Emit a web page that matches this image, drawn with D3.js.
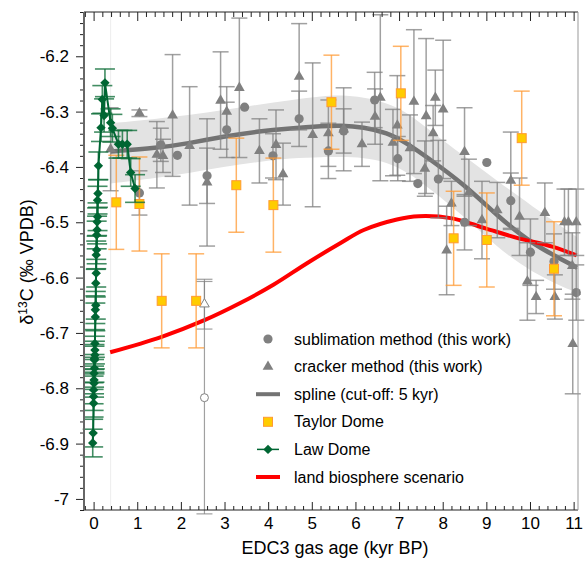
<!DOCTYPE html>
<html lang="en">
<head>
<meta charset="UTF-8">
<title>d13C EDC3</title>
<script src="https://d3js.org/d3.v7.min.js"></script>
<style>
  body { margin: 0; background: #fff; font-family: Arial, "Liberation Sans", sans-serif; }
  svg { display: block; }
  .tick text { font-family: Arial, "Liberation Sans", sans-serif; fill: #000; }
</style>
</head>
<body>
<div id="chart"></div>
<script>
// sublimation method (this work)
const subAge  = [1.05, 1.54, 1.92, 2.60, 3.05, 3.46, 4.11, 4.71, 5.38, 5.73, 6.44, 6.97, 7.43, 7.90, 8.50, 9.01, 9.56, 10.01, 10.55, 11.06];
const subD13C = [-6.447, -6.360, -6.379, -6.416, -6.333, -6.292, -6.380, -6.313, -6.371, -6.335, -6.279, -6.385, -6.430, -6.422, -6.500, -6.392, -6.461, -6.554, -6.571, -6.627];
const subErr  = [0.04, 0.03, 0, 0.05, 0.05, 0, 0.04, 0.05, 0.05, 0.04, 0.05, 0.04, 0, 0.07, 0.05, 0, 0.05, 0.06, 0.05, 0.05];

// cracker method (this work)
const crkAge  = [0.39, 1.05, 1.45, 1.59, 1.81, 2.20, 2.60, 2.91, 3.05, 3.34, 3.80, 4.18, 4.34, 4.71, 5.02, 5.38, 5.73, 6.15, 6.45, 6.57, 6.86, 6.96, 7.25, 7.34, 7.59, 7.62, 7.78, 7.83, 8.01, 8.09, 8.20, 8.50, 8.60, 8.90, 9.25, 9.56, 9.76, 9.94, 10.14, 10.34, 10.57, 10.79, 10.88, 10.97, 10.98, 11.06];
const crkD13C = [-6.368, -6.303, -6.378, -6.380, -6.307, -6.362, -6.428, -6.280, -6.300, -6.257, -6.371, -6.360, -6.413, -6.237, -6.342, -6.339, -6.332, -6.359, -6.309, -6.275, -6.356, -6.325, -6.366, -6.282, -6.403, -6.308, -6.339, -6.275, -6.296, -6.551, -6.466, -6.373, -6.446, -6.496, -6.478, -6.425, -6.490, -6.607, -6.635, -6.483, -6.635, -6.500, -6.500, -6.579, -6.720, -6.500];
const crkErr  = [0.075, 0.006, 0.06, 0.03, 0.11, 0.107, 0.115, 0.088, 0.045, 0.126, 0.058, 0.063, 0.056, 0.096, 0.13, 0.06, 0.075, 0.04, 0.05, 0.15, 0.06, 0.09, 0.06, 0.13, 0.05, 0.14, 0.05, 0.05, 0.125, 0.08, 0.04, 0.08, 0.06, 0.07, 0.05, 0.088, 0.07, 0.07, 0.03, 0.054, 0.04, 0.06, 0.06, 0.06, 0.09, 0.06];

// rejected samples (open symbols)
const outAge  = [2.54, 2.54];
const outD13C = [-6.817, -6.648];
const outErr  = [0.21, 0.045];
const outKind = ["circle", "triangle"];

// spline (cut-off 5 kyr) and its uncertainty band
const splAge  = [0.39, 1.45, 2.21, 2.98, 3.74, 4.51, 5.27, 5.65, 6.19, 6.72, 7.18, 7.72, 8.48, 9.25, 10.01, 11.08];
const splD13C = [-6.372, -6.366, -6.357, -6.345, -6.336, -6.330, -6.326, -6.325, -6.328, -6.338, -6.357, -6.387, -6.431, -6.488, -6.538, -6.582];
const bandHi  = [-6.321, -6.313, -6.306, -6.297, -6.288, -6.279, -6.272, -6.270, -6.274, -6.284, -6.301, -6.335, -6.380, -6.425, -6.469, -6.527];
const bandLo  = [-6.430, -6.420, -6.411, -6.400, -6.391, -6.384, -6.382, -6.382, -6.383, -6.391, -6.409, -6.440, -6.489, -6.545, -6.590, -6.628];

// Taylor Dome
const tdAge  = [0.52, 1.05, 1.56, 2.35, 3.27, 4.12, 5.45, 7.04, 8.25, 9.01, 9.81, 10.55];
const tdD13C = [-6.464, -6.467, -6.642, -6.642, -6.433, -6.469, -6.283, -6.267, -6.529, -6.532, -6.348, -6.584];
const tdErr  = [0.085, 0.085, 0.085, 0.085, 0.085, 0.085, 0.085, 0.085, 0.085, 0.085, 0.085, 0.085];

// Law Dome
const ldAge  = [0.95, 0.85, 0.77, 0.66, 0.57, 0.43, 0.39, 0.26, 0.24, 0.20, 0.17, 0.11, 0.10, 0.09, 0.09, 0.08, 0.08, 0.07, 0.07, 0.06, 0.06, 0.05, 0.05, 0.04, 0.04, 0.03, 0.03, 0.03, 0.02, 0.02, 0.02, 0.01, 0.01, 0.01, 0.00, 0.00, 0.00, -0.01, -0.02];
const ldD13C = [-6.439, -6.410, -6.359, -6.359, -6.359, -6.330, -6.320, -6.248, -6.307, -6.278, -6.329, -6.398, -6.448, -6.460, -6.490, -6.499, -6.514, -6.523, -6.550, -6.559, -6.592, -6.610, -6.650, -6.658, -6.671, -6.719, -6.731, -6.740, -6.746, -6.749, -6.764, -6.773, -6.785, -6.791, -6.803, -6.815, -6.827, -6.881, -6.899];
const ldErr  = [0.025, 0.025, 0.025, 0.025, 0.025, 0.025, 0.025, 0.025, 0.03, 0.025, 0.025, 0.025, 0.025, 0.025, 0.025, 0.025, 0.025, 0.025, 0.025, 0.025, 0.025, 0.025, 0.025, 0.025, 0.025, 0.025, 0.025, 0.025, 0.025, 0.025, 0.025, 0.025, 0.025, 0.025, 0.025, 0.025, 0.025, 0.025, 0.025];

// land biosphere scenario
const landAge  = [0.38, 1.56, 2.54, 3.36, 4.12, 4.89, 5.65, 6.19, 6.95, 7.45, 8.22, 8.98, 9.74, 10.51, 11.07];
const landD13C = [-6.735, -6.707, -6.677, -6.646, -6.613, -6.574, -6.538, -6.514, -6.495, -6.489, -6.493, -6.511, -6.529, -6.544, -6.560];

// ticks
const xTicks = [0, 1, 2, 3, 4, 5, 6, 7, 8, 9, 10, 11];
const yTicks = [-7, -6.9, -6.8, -6.7, -6.6, -6.5, -6.4, -6.3, -6.2];
const yTickLabels = ["-7", "-6.9", "-6.8", "-6.7", "-6.6", "-6.5", "-6.4", "-6.3", "-6.2"];

const legendLabels = ["sublimation method (this work)", "cracker method (this work)", "spline (cut-off: 5 kyr)", "Taylor Dome", "Law Dome", "land biosphere scenario"];

const width = 585, height = 567;
const plot = { left: 84, right: 578, top: 12, bottom: 510 };

const GRAY = "#808080", SPLINE = "#737373", BAND = "#e3e3e3";
const ORANGE = "#ff9a33", GOLD = "#ffcc00", GREEN = "#006633", RED = "#ff0000";

const svg = d3.select("#chart").append("svg")
    .attr("width", width)
    .attr("height", height);

const x = d3.scaleLinear().domain([-0.22, 11.1]).range([plot.left, plot.right]);
const y = d3.scaleLinear().domain([-7.02, -6.12]).range([plot.bottom, plot.top]);

const zip = (a, b, c) => a.map((v, i) => ({ age: v, val: b[i], err: c ? c[i] : 0 }));

const sub  = zip(subAge, subD13C, subErr);
const crk  = zip(crkAge, crkD13C, crkErr);
const outs = zip(outAge, outD13C, outErr).map((d, i) => ({ ...d, kind: outKind[i] }));
const td   = zip(tdAge, tdD13C, tdErr);
const ld   = zip(ldAge, ldD13C, ldErr);
const spl  = splAge.map((a, i) => ({ age: a, val: splD13C[i], hi: bandHi[i], lo: bandLo[i] }));
const land = zip(landAge, landD13C);

const smooth = d3.curveBasis;
const g = svg.append("g");

// uncertainty band of the spline
g.append("path")
    .datum(spl)
    .attr("fill", BAND)
    .attr("d", d3.area()
        .x(d => x(d.age))
        .y0(d => y(d.lo))
        .y1(d => y(d.hi))
        .curve(smooth));

// faint vertical line at start of the spline window
g.append("line")
    .attr("x1", x(splAge[0])).attr("x2", x(splAge[0]))
    .attr("y1", plot.top).attr("y2", plot.bottom)
    .attr("stroke", "#eeeeee").attr("stroke-width", 1);

// spline
g.append("path")
    .datum(spl)
    .attr("fill", "none")
    .attr("stroke", SPLINE)
    .attr("stroke-width", 4.5)
    .attr("d", d3.line().x(d => x(d.age)).y(d => y(d.val)).curve(smooth));

// land biosphere scenario
g.append("path")
    .datum(land)
    .attr("fill", "none")
    .attr("stroke", RED)
    .attr("stroke-width", 4)
    .attr("d", d3.line().x(d => x(d.age)).y(d => y(d.val)).curve(d3.curveCatmullRom.alpha(0.5)));

// error bars helper
function errorBars(data, color, capW, sw, op) {
    const eg = g.append("g")
        .attr("stroke", color)
        .attr("stroke-width", sw)
        .attr("stroke-opacity", op);
    const withErr = data.filter(d => d.err > 0);
    eg.selectAll("line.stem").data(withErr).join("line")
        .attr("class", "stem")
        .attr("x1", d => x(d.age)).attr("x2", d => x(d.age))
        .attr("y1", d => y(d.val - d.err)).attr("y2", d => y(d.val + d.err));
    eg.selectAll("line.capt").data(withErr).join("line")
        .attr("class", "capt")
        .attr("x1", d => x(d.age) - capW / 2).attr("x2", d => x(d.age) + capW / 2)
        .attr("y1", d => y(d.val + d.err)).attr("y2", d => y(d.val + d.err));
    eg.selectAll("line.capb").data(withErr).join("line")
        .attr("class", "capb")
        .attr("x1", d => x(d.age) - capW / 2).attr("x2", d => x(d.age) + capW / 2)
        .attr("y1", d => y(d.val - d.err)).attr("y2", d => y(d.val - d.err));
}

errorBars(crk, GRAY, 16, 1.5, 0.75);
errorBars(sub, GRAY, 16, 1.5, 0.75);
errorBars(outs, GRAY, 16, 1.2, 0.75);

const triangle = d3.symbol(d3.symbolTriangle, 50);

// cracker
g.append("g").selectAll("path").data(crk).join("path")
    .attr("transform", d => `translate(${x(d.age)},${y(d.val)})`)
    .attr("d", triangle)
    .attr("fill", GRAY);

// sublimation
g.append("g").selectAll("circle").data(sub).join("circle")
    .attr("cx", d => x(d.age))
    .attr("cy", d => y(d.val))
    .attr("r", 4.6)
    .attr("fill", GRAY);

// rejected samples
g.append("g").selectAll("path").data(outs).join("path")
    .attr("transform", d => `translate(${x(d.age)},${y(d.val)})`)
    .attr("d", d => d.kind === "circle" ? d3.symbol(d3.symbolCircle, 50)() : d3.symbol(d3.symbolTriangle, 40)())
    .attr("fill", "#fff")
    .attr("stroke", GRAY)
    .attr("stroke-width", 1);

// Taylor Dome
errorBars(td, ORANGE, 16, 1.5, 0.75);
g.append("g").selectAll("rect").data(td).join("rect")
    .attr("x", d => x(d.age) - 4.5)
    .attr("y", d => y(d.val) - 4.5)
    .attr("width", 9).attr("height", 9)
    .attr("fill", GOLD)
    .attr("stroke", ORANGE)
    .attr("stroke-width", 1);

// Law Dome
errorBars(ld, "#13703c", 20, 1.6, 0.8);
g.append("path")
    .datum(ld)
    .attr("fill", "none")
    .attr("stroke", GREEN)
    .attr("stroke-width", 2)
    .attr("d", d3.line().x(d => x(d.age)).y(d => y(d.val)));
const diamond = d3.symbol(d3.symbolSquare, 44);
g.append("g").selectAll("path").data(ld).join("path")
    .attr("transform", d => `translate(${x(d.age)},${y(d.val)}) rotate(45)`)
    .attr("d", diamond)
    .attr("fill", GREEN);

// axes
const minorX = d3.range(-0.2, 11.05, 0.2).filter(v => Math.abs(v - Math.round(v)) > 0.01);
const minorY = d3.range(-7.02, -6.119, 0.02).filter(v => Math.abs(v * 10 - Math.round(v * 10)) > 0.01);

const bottom = svg.append("g").attr("transform", `translate(0,${plot.bottom})`)
    .call(d3.axisBottom(x).tickValues(xTicks).tickSize(-8).tickPadding(7).tickFormat(d3.format("d")));
bottom.selectAll(".tick text").style("font-size", "17px");
svg.append("g").attr("transform", `translate(0,${plot.bottom})`)
    .call(d3.axisBottom(x).tickValues(minorX).tickSize(-4).tickFormat(""));

svg.append("g").attr("transform", `translate(0,${plot.top})`)
    .call(d3.axisTop(x).tickValues(xTicks).tickSize(-9).tickFormat(""));
svg.append("g").attr("transform", `translate(0,${plot.top})`)
    .call(d3.axisTop(x).tickValues(minorX).tickSize(-5).tickFormat(""));

const left = svg.append("g").attr("transform", `translate(${plot.left},0)`)
    .call(d3.axisLeft(y).tickValues(yTicks).tickSize(8).tickPadding(7).tickFormat((d, i) => yTickLabels[i]));
left.selectAll(".tick text").style("font-size", "17px");
svg.append("g").attr("transform", `translate(${plot.left},0)`)
    .call(d3.axisLeft(y).tickValues(minorY).tickSize(4).tickFormat(""));

svg.selectAll(".domain").remove();
svg.selectAll(".tick line").attr("stroke", "#222");

// frame
svg.append("line").attr("x1", plot.left).attr("x2", plot.right).attr("y1", plot.top).attr("y2", plot.top).attr("stroke", "#222");
svg.append("line").attr("x1", plot.left).attr("x2", plot.right).attr("y1", plot.bottom).attr("y2", plot.bottom).attr("stroke", "#222");
svg.append("line").attr("x1", plot.right).attr("x2", plot.right).attr("y1", plot.top).attr("y2", plot.bottom).attr("stroke", "#999");
svg.append("line").attr("x1", plot.left).attr("x2", plot.left).attr("y1", plot.top).attr("y2", plot.bottom).attr("stroke", "#666").attr("stroke-width", 2);

// axis titles
svg.append("text")
    .attr("x", (plot.left + plot.right) / 2 + 4)
    .attr("y", 554)
    .attr("text-anchor", "middle")
    .style("font-size", "18px")
    .text("EDC3 gas age (kyr BP)");

const yt = svg.append("text")
    .attr("transform", `translate(33,262) rotate(-90)`)
    .attr("text-anchor", "middle")
    .style("font-size", "18px");
yt.append("tspan").text("δ");
yt.append("tspan").attr("dy", -6).style("font-size", "12px").text("13");
yt.append("tspan").attr("dy", 6).text("C (‰ VPDB)");

// legend
const legend = svg.append("g").attr("transform", "translate(268,339)");
const rowH = 27.6;
legendLabels.forEach((lab, i) => {
    const r = legend.append("g").attr("transform", `translate(0,${i * rowH})`);
    if (i === 0) r.append("circle").attr("r", 4.6).attr("fill", GRAY);
    if (i === 1) r.append("path").attr("d", triangle).attr("fill", GRAY);
    if (i === 2) r.append("line").attr("x1", -12).attr("x2", 12).attr("stroke", SPLINE).attr("stroke-width", 4);
    if (i === 3) r.append("rect").attr("x", -4.5).attr("y", -4.5).attr("width", 9).attr("height", 9).attr("fill", GOLD).attr("stroke", ORANGE);
    if (i === 4) {
        r.append("line").attr("x1", -11).attr("x2", 11).attr("stroke", GREEN).attr("stroke-width", 1.5);
        r.append("path").attr("d", diamond).attr("transform", "rotate(45)").attr("fill", GREEN);
    }
    if (i === 5) r.append("line").attr("x1", -12).attr("x2", 12).attr("stroke", RED).attr("stroke-width", 4);
    r.append("text")
        .attr("x", 26)
        .attr("dy", "0.35em")
        .style("font-size", "16px")
        .text(lab);
});
</script>
</body>
</html>
